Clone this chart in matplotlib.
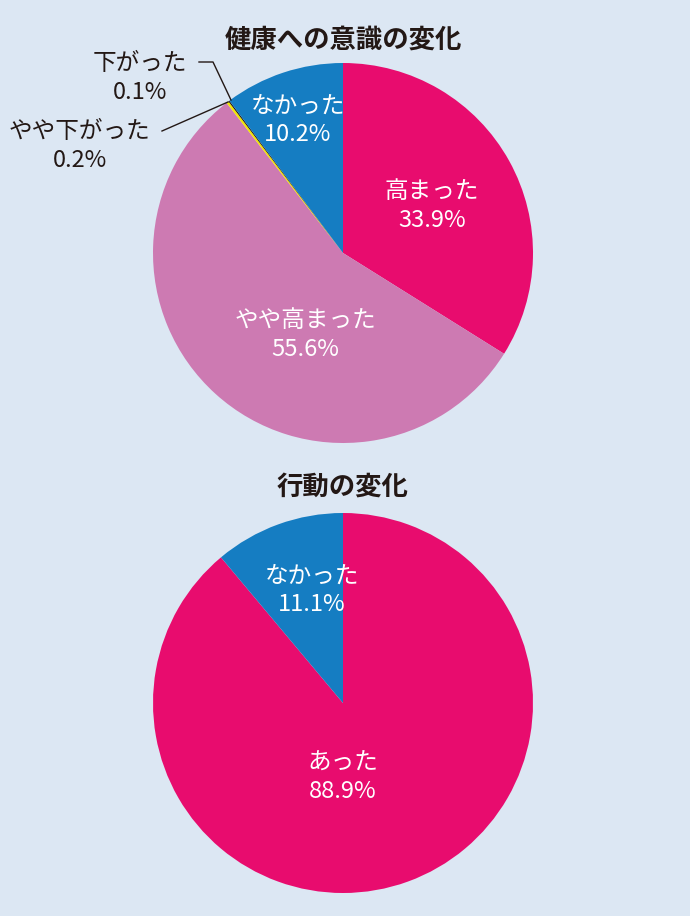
import matplotlib
matplotlib.use("Agg")
import matplotlib.pyplot as plt
import numpy as np

plt.rcParams["font.family"] = "Noto Sans CJK JP"

top_labels = ["高まった", "やや高まった", "やや下がった", "下がった", "なかった"]
top_values = [33.9, 55.6, 0.2, 0.1, 10.2]
top_colors = ["#E80C6E", "#CD7AB2", "#F2E600", "#231815", "#157DC2"]
bot_labels = ["あった", "なかった"]
bot_values = [88.9, 11.1]
bot_colors = ["#E80C6E", "#157DC2"]

W, H = 690, 916
bg = "#DCE7F3"
fig = plt.figure(figsize=(W/100, H/100), dpi=100, facecolor=bg)

def pie_ax(cx, cy, r):
    ax = fig.add_axes([(cx-r)/W, 1-(cy+r)/H, 2*r/W, 2*r/H])
    ax.axis("off")
    return ax

def fix(ax):
    ax.set_xlim(-1, 1); ax.set_ylim(-1, 1); ax.set_aspect("equal")

ax1 = pie_ax(343, 253, 190)
ax1.pie(top_values, colors=top_colors, startangle=90, counterclock=False, radius=1,
        wedgeprops=dict(linewidth=0))
fix(ax1)
fs = 17
fig.text(343/W, 1-40/H, "健康への意識の変化", ha="center", va="center", fontsize=19, fontweight="bold", color="#231815")
fig.text(432/W, 1-206/H, f"{top_labels[0]}\n{top_values[0]}%", ha="center", va="center", fontsize=fs, color="white", linespacing=1.3)
fig.text(305/W, 1-335/H, f"{top_labels[1]}\n{top_values[1]}%", ha="center", va="center", fontsize=fs, color="white", linespacing=1.3)
fig.text(298/W, 1-120/H, f"{top_labels[4]}\n{top_values[4]}%", ha="center", va="center", fontsize=fs, color="white", linespacing=1.3)
fig.text(140/W, 1-78/H, f"{top_labels[3]}\n{top_values[3]}%", ha="center", va="center", fontsize=fs, color="#231815", linespacing=1.3)
fig.text(80/W, 1-146/H, f"{top_labels[2]}\n{top_values[2]}%", ha="center", va="center", fontsize=fs, color="#231815", linespacing=1.3)
fig.add_artist(plt.Line2D([199/W, 213/W, 231/W], [1-62/H, 1-62/H, 1-100/H], color="#231815", lw=1))
fig.add_artist(plt.Line2D([162/W, 228/W], [1-131/H, 1-102/H], color="#231815", lw=1))

ax2 = pie_ax(343, 703, 190)
ax2.pie(bot_values, colors=bot_colors, startangle=90, counterclock=False, radius=1,
        wedgeprops=dict(linewidth=0))
fix(ax2)
fig.text(343/W, 1-487/H, "行動の変化", ha="center", va="center", fontsize=19, fontweight="bold", color="#231815")
fig.text(343/W, 1-777/H, f"{bot_labels[0]}\n{bot_values[0]}%", ha="center", va="center", fontsize=fs, color="white", linespacing=1.3)
fig.text(312/W, 1-590/H, f"{bot_labels[1]}\n{bot_values[1]}%", ha="center", va="center", fontsize=fs, color="white", linespacing=1.3)

fig.savefig("out.png", dpi=100, facecolor=bg)
